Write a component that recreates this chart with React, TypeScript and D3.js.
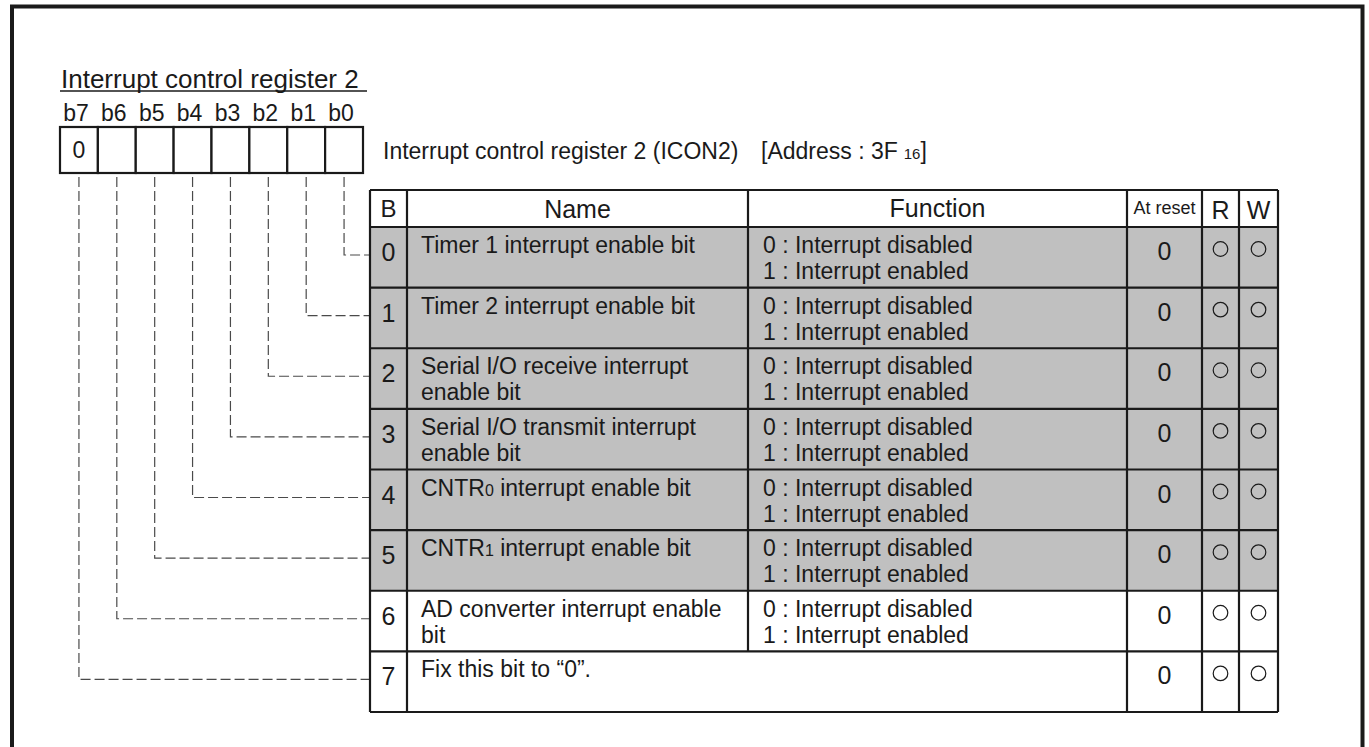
import React from "react";
import * as d3 from "d3";

// ---- data ----
const bitLabels = ["b7", "b6", "b5", "b4", "b3", "b2", "b1", "b0"];
const bitValues = ["0", "", "", "", "", "", "", ""];
const rowBits = ["0", "1", "2", "3", "4", "5", "6", "7"];
// name segments: [text, isSmall]
const rowNames: [string, boolean][][][] = [
  [[["Timer 1 interrupt enable bit", false]]],
  [[["Timer 2 interrupt enable bit", false]]],
  [[["Serial I/O receive interrupt", false]], [["enable bit", false]]],
  [[["Serial I/O transmit interrupt", false]], [["enable bit", false]]],
  [[["CNTR", false], ["0", true], [" interrupt enable bit", false]]],
  [[["CNTR", false], ["1", true], [" interrupt enable bit", false]]],
  [[["AD converter interrupt enable", false]], [["bit", false]]],
  [[["Fix this bit to \u201C0\u201D.", false]]],
];
const rowFunctions = [
  ["0 : Interrupt disabled", "1 : Interrupt enabled"],
  ["0 : Interrupt disabled", "1 : Interrupt enabled"],
  ["0 : Interrupt disabled", "1 : Interrupt enabled"],
  ["0 : Interrupt disabled", "1 : Interrupt enabled"],
  ["0 : Interrupt disabled", "1 : Interrupt enabled"],
  ["0 : Interrupt disabled", "1 : Interrupt enabled"],
  ["0 : Interrupt disabled", "1 : Interrupt enabled"],
  [],
];
const rowShaded = [true, true, true, true, true, true, false, false];
const rowAtReset = ["0", "0", "0", "0", "0", "0", "0", "0"];
const rowRead = [true, true, true, true, true, true, true, true];
const rowWrite = [true, true, true, true, true, true, true, true];
const headers = ["B", "Name", "Function", "At reset", "R", "W"];
const registerTitle = "Interrupt control register 2";
const tableTitle = "Interrupt control register 2 (ICON2)";
const addressText = "[Address : 3F";
const addressSub = "16";

// ---- layout ----
const W = 1369;
const H = 747;
const FONT = "'Liberation Sans', Arial, Helvetica, sans-serif";
const INK = "#1a1a1a";
const SHADE = "#c0c0c0";
const colEdges = [370, 407, 748, 1127, 1202, 1239, 1278];
const tableTop = 190;
const headerBottom = 227;
const tableBottom = 712;

export default function App() {
  const rowY = d3.scaleLinear().domain([0, rowBits.length]).range([headerBottom, tableBottom]);
  const bitX = d3.scaleBand<string>().domain(bitLabels).range([60, 363]);
  const boxTop = 127;
  const boxBottom = 173;
  const tableLeft = colEdges[0];
  const tableRight = colEdges[colEdges.length - 1];
  const colMid = (i: number) => (colEdges[i] + colEdges[i + 1]) / 2;

  const renderSegs = (segs: [string, boolean][]) =>
    segs.map(([t, small], k) => (
      <tspan key={k} fontSize={small ? 16 : 23}>
        {t}
      </tspan>
    ));

  return (
    <svg
      width={W}
      height={H}
      viewBox={`0 0 ${W} ${H}`}
      style={{ position: "absolute", left: 0, top: 0, display: "block", background: "#fff" }}
      fontFamily={FONT}
    >
      <rect x={0} y={0} width={W} height={H} fill="#fff" />
      {/* outer frame */}
      <rect x={12} y={6.5} width={1350.5} height={800} fill="none" stroke={INK} strokeWidth={4} />

      {/* register title */}
      <text x={61} y={88} fontSize={26} fill={INK}>
        {registerTitle}
      </text>
      <line x1={60} x2={367} y1={91} y2={91} stroke={INK} strokeWidth={1.3} />

      {/* bit labels */}
      {bitLabels.map((b) => (
        <text key={b} x={bitX(b)! + bitX.bandwidth() / 2 - 3} y={121} fontSize={23} textAnchor="middle" fill={INK}>
          {b}
        </text>
      ))}
      {/* bit boxes */}
      {bitLabels.map((b, i) => (
        <g key={"box" + b}>
          <rect x={bitX(b)!} y={boxTop} width={bitX.bandwidth()} height={boxBottom - boxTop} fill="#fff" stroke={INK} strokeWidth={2.2} />
          {bitValues[i] && (
            <text x={bitX(b)! + bitX.bandwidth() / 2} y={158} fontSize={23} textAnchor="middle" fill={INK}>
              {bitValues[i]}
            </text>
          )}
        </g>
      ))}

      {/* dashed leader lines */}
      {bitLabels.map((b, i) => {
        const bitIndex = bitLabels.length - 1 - i;
        const x = bitX(b)! + bitX.bandwidth() / 2;
        const y = rowY(bitIndex) + 28;
        return (
          <path
            key={"lead" + b}
            d={`M${x},${boxBottom + 4}V${y}H${tableLeft}`}
            fill="none"
            stroke="#4a4a4a"
            strokeWidth={1.2}
            strokeDasharray="10,4"
          />
        );
      })}

      {/* table title */}
      <text x={383} y={159} fontSize={23} fill={INK}>
        {tableTitle}
      </text>
      <text x={761} y={159} fontSize={23} fill={INK}>
        {addressText}
        <tspan dx={6} fontSize={15}>
          {addressSub}
        </tspan>
        <tspan>]</tspan>
      </text>

      {/* table background */}
      <rect x={tableLeft} y={tableTop} width={tableRight - tableLeft} height={headerBottom - tableTop} fill="#fff" />
      {rowBits.map((r, i) => (
        <rect
          key={"bg" + r}
          x={tableLeft}
          y={rowY(i)}
          width={tableRight - tableLeft}
          height={rowY(i + 1) - rowY(i)}
          fill={rowShaded[i] ? SHADE : "#fff"}
        />
      ))}

      {/* header texts */}
      <text x={colMid(0)} y={217} fontSize={24} textAnchor="middle" fill={INK}>{headers[0]}</text>
      <text x={colMid(1)} y={218} fontSize={25} textAnchor="middle" fill={INK}>{headers[1]}</text>
      <text x={colMid(2)} y={217} fontSize={25} textAnchor="middle" fill={INK}>{headers[2]}</text>
      <text x={colMid(3)} y={214} fontSize={18} textAnchor="middle" fill={INK}>{headers[3]}</text>
      <text x={colMid(4)} y={219} fontSize={25} textAnchor="middle" fill={INK}>{headers[4]}</text>
      <text x={colMid(5)} y={219} fontSize={25} textAnchor="middle" fill={INK}>{headers[5]}</text>

      {/* rows */}
      {rowBits.map((r, i) => {
        const top = rowY(i);
        return (
          <g key={"row" + r} fill={INK}>
            <text x={colMid(0)} y={top + 34} fontSize={25} textAnchor="middle">
              {r}
            </text>
            {rowNames[i].map((line, k) => (
              <text key={k} x={colEdges[1] + 14} y={top + 26 + k * 26} fontSize={23}>
                {renderSegs(line)}
              </text>
            ))}
            {rowFunctions[i].map((line, k) => (
              <text key={"f" + k} x={colEdges[2] + 15} y={top + 26 + k * 26} fontSize={23}>
                {line}
              </text>
            ))}
            <text x={colMid(3)} y={top + 33} fontSize={25} textAnchor="middle">
              {rowAtReset[i]}
            </text>
            {rowRead[i] && <circle cx={colMid(4)} cy={top + 22} r={7.3} fill="none" stroke={INK} strokeWidth={1.2} />}
            {rowWrite[i] && <circle cx={colMid(5)} cy={top + 22} r={7.3} fill="none" stroke={INK} strokeWidth={1.2} />}
          </g>
        );
      })}

      {/* grid lines */}
      <g stroke={INK} strokeWidth={2.2}>
        {[tableTop, ...rowBits.map((_, i) => rowY(i)), tableBottom].map((y, k) => (
          <line key={"h" + k} x1={tableLeft} x2={tableRight} y1={y} y2={y} />
        ))}
        {colEdges.map((x, k) => {
          if (k === 2) {
            // Name / Function divider: skipped in the last row
            return <line key={"v" + k} x1={x} x2={x} y1={tableTop} y2={rowY(rowBits.length - 1)} />;
          }
          return <line key={"v" + k} x1={x} x2={x} y1={tableTop} y2={tableBottom} />;
        })}
      </g>
    </svg>
  );
}
